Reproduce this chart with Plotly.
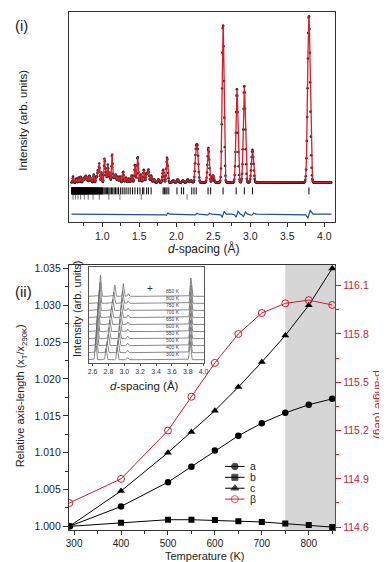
import numpy as np
import plotly.graph_objects as go

# ---------------- data: panel (ii) ----------------
temperature = [290, 400, 500, 550, 600, 650, 700, 750, 800, 850]
a_rel = [1.0000, 1.0027, 1.0060, 1.0081, 1.0103, 1.0123, 1.0140, 1.0154, 1.0165, 1.0173]
b_rel = [1.0000, 1.0005, 1.0009, 1.0009, 1.00085, 1.0007, 1.0006, 1.0004, 1.0002, 0.9999]
c_rel = [1.0000, 1.0048, 1.0100, 1.0128, 1.0157, 1.0189, 1.0223, 1.0259, 1.0300, 1.0350]
beta_deg = [114.75, 114.90, 115.20, 115.41, 115.62, 115.80, 115.93, 115.99, 116.01, 115.98]
shade_from = 750

# ---------------- data: panel (i) (diffraction pattern) ----------------
peak_d = [0.605, 0.65, 0.68, 0.708, 0.74, 0.76, 0.778, 0.80, 0.827, 0.85, 0.885, 0.92, 0.94, 0.96,
          0.99, 1.031, 1.05, 1.075, 1.10, 1.133, 1.16, 1.182, 1.21, 1.24, 1.283, 1.32, 1.36, 1.40,
          1.442, 1.478, 1.52, 1.562, 1.60, 1.624, 1.66, 1.70, 1.76, 1.823, 1.876, 1.96, 2.02, 2.09,
          2.155, 2.20, 2.266, 2.288, 2.434, 2.497, 2.633, 2.82, 2.92, 3.03, 3.793]
peak_h = [6, 4, 5, 6, 4, 5, 7, 5, 7, 4, 8, 6, 12, 19,
          10, 24, 9, 18, 10, 29, 6, 8, 6, 6, 11, 5, 4, 7,
          18, 26, 8, 13, 9, 13, 7, 3, 3, 13, 25, 2, 3, 2,
          3, 2, 30, 31, 35, 7, 160, 94, 97, 33, 169]
refl_phase1 = [0.585, 0.589, 0.592, 0.595, 0.598, 0.601, 0.604, 0.607, 0.61, 0.613, 0.616, 0.619,
               0.622, 0.625, 0.628, 0.631, 0.634, 0.637, 0.64, 0.643, 0.646, 0.649, 0.652, 0.655,
               0.658, 0.661, 0.664, 0.667, 0.67, 0.674, 0.677, 0.681, 0.684, 0.688, 0.691, 0.695,
               0.698, 0.702, 0.705, 0.709, 0.712, 0.716, 0.72, 0.724, 0.728, 0.732, 0.736, 0.74,
               0.744, 0.748, 0.752, 0.756, 0.76, 0.764, 0.768, 0.773, 0.777, 0.782, 0.786, 0.791,
               0.795, 0.80, 0.804, 0.809, 0.813, 0.818, 0.822, 0.827, 0.832, 0.837, 0.842, 0.847,
               0.852, 0.857, 0.862, 0.868, 0.873, 0.879, 0.884, 0.89, 0.895, 0.901, 0.906, 0.912,
               0.918, 0.924, 0.93, 0.936, 0.942, 0.948, 0.955, 0.962, 0.968, 0.975, 0.981, 0.988,
               0.995, 1.002, 1.01, 1.025, 1.04, 1.056, 1.072, 1.089, 1.106, 1.124, 1.142, 1.161,
               1.18, 1.2, 1.22, 1.245, 1.27, 1.296, 1.322, 1.35, 1.378, 1.41, 1.442, 1.478, 1.51,
               1.545, 1.562, 1.6, 1.624, 1.66, 1.823, 1.84, 1.86, 1.876, 1.90, 2.01, 2.07, 2.10,
               2.21, 2.24, 2.27, 2.43, 2.465, 2.633, 2.81, 2.92, 3.03, 3.793]
refl_phase2 = [0.605, 0.637, 0.672, 0.708, 0.757, 0.81, 0.876, 0.96, 1.089, 1.239, 1.527, 2.146]
diff_pos = [1.876, 2.266, 2.434, 2.633, 2.82, 2.92, 3.03, 3.793]
diff_amp = [1.2, 1.0, 1.0, 3.0, 3.0, 2.5, 1.2, 4.0]

# ---------------- data: inset (stacked patterns) ----------------
inset_T = [300, 400, 500, 550, 600, 650, 700, 750, 800, 850]
inset_p1 = [2.640, 2.648, 2.656, 2.661, 2.666, 2.672, 2.679, 2.686, 2.693, 2.700]
inset_p2 = [2.770, 2.784, 2.800, 2.809, 2.818, 2.830, 2.842, 2.855, 2.868, 2.880]
inset_p3 = [2.910, 2.922, 2.935, 2.941, 2.948, 2.956, 2.964, 2.972, 2.980, 2.988]
inset_p4 = [3.040, 3.041, 3.042, 3.043, 3.044, 3.045, 3.046, 3.047, 3.048, 3.050]
inset_p5 = [3.830, 3.831, 3.833, 3.834, 3.835, 3.836, 3.837, 3.838, 3.839, 3.840]
inset_heights = [3.0, 1.6, 1.8, 0.35, 2.6]

FONT = "Liberation Sans, Arial, sans-serif"
RED = "#c41e30"
AX = "#333333"

fig = go.Figure()

# ---------- panel (i) ----------
d_grid = np.arange(0.585, 4.10, 0.002)
d_obs = np.arange(0.585, 4.10, 0.005)


def pattern(x):
    y = np.zeros_like(x)
    for p, h in zip(peak_d, peak_h):
        s = 0.0035 + 0.0035 * p
        y += h * np.exp(-0.5 * ((x - p) / s) ** 2)
    return y


diff_offset = -32
diff = np.full_like(d_grid, diff_offset, dtype=float)
for p, A in zip(diff_pos, diff_amp):
    s = 0.0035 + 0.0035 * p
    u = (d_grid - p) / s
    diff += A * u * np.exp(-0.5 * u ** 2) * 1.6

fig.add_trace(go.Scatter(x=d_obs, y=pattern(d_obs), mode="markers",
                         marker=dict(size=2.6, color="#222222"), xaxis="x", yaxis="y",
                         showlegend=False, hoverinfo="skip"))
fig.add_trace(go.Scatter(x=d_grid, y=pattern(d_grid), mode="lines",
                         line=dict(color="#d0202e", width=1.3), xaxis="x", yaxis="y",
                         showlegend=False))
fig.add_trace(go.Scatter(x=refl_phase1, y=[-8.5] * len(refl_phase1), mode="markers",
                         marker=dict(symbol="line-ns", size=5, line=dict(width=1.0, color="black")),
                         xaxis="x", yaxis="y", showlegend=False))
fig.add_trace(go.Scatter(x=refl_phase2, y=[-14.5] * len(refl_phase2), mode="markers",
                         marker=dict(symbol="line-ns", size=4, line=dict(width=0.7, color="#333")),
                         xaxis="x", yaxis="y", showlegend=False))
fig.add_trace(go.Scatter(x=d_grid, y=diff, mode="lines",
                         line=dict(color="#1f4e9a", width=1.2), xaxis="x", yaxis="y",
                         showlegend=False))

# ---------- panel (ii) ----------
fig.add_shape(type="rect", xref="x2", yref="y2 domain", x0=shade_from, x1=870, y0=0, y1=1,
              fillcolor="#d6d6d6", line=dict(width=0), layer="below")

fig.add_trace(go.Scatter(x=temperature, y=a_rel, mode="lines+markers", name="a",
                         line=dict(color="black", width=1), marker=dict(symbol="circle", size=6.5, color="black"),
                         xaxis="x2", yaxis="y2", showlegend=False))
fig.add_trace(go.Scatter(x=temperature, y=b_rel, mode="lines+markers", name="b",
                         line=dict(color="black", width=1), marker=dict(symbol="square", size=6, color="black"),
                         xaxis="x2", yaxis="y2", showlegend=False))
fig.add_trace(go.Scatter(x=temperature, y=c_rel, mode="lines+markers", name="c",
                         line=dict(color="black", width=1), marker=dict(symbol="triangle-up", size=7, color="black"),
                         xaxis="x2", yaxis="y2", showlegend=False))
fig.add_trace(go.Scatter(x=temperature, y=beta_deg, mode="lines+markers", name="β",
                         line=dict(color=RED, width=1),
                         marker=dict(symbol="circle-open", size=7, color=RED, line=dict(width=1)),
                         xaxis="x2", yaxis="y3", showlegend=False))

# ---------- custom legend ----------
legend_names = ["a", "b", "c", "β"]
legend_symbols = ["circle", "square", "triangle-up", "circle-open"]
legend_colors = ["black", "black", "black", RED]
legend_sizes = [6.5, 6, 7, 7]
for k, (nm, sym, col, sz) in enumerate(zip(legend_names, legend_symbols, legend_colors, legend_sizes)):
    fig.add_trace(go.Scatter(x=[0, 0.5, 1], y=[k, k, k], mode="lines+markers",
                             line=dict(color=col, width=1),
                             marker=dict(symbol=sym, size=[0, sz, 0], color=col, line=dict(width=1, color=col)),
                             xaxis="x4", yaxis="y5", showlegend=False, hoverinfo="skip"))
    fig.add_annotation(text=nm, xref="paper", yref="y5", x=0.626, y=k, xanchor="left",
                       yanchor="middle", showarrow=False, borderpad=0,
                       font=dict(size=10.5, color="#222"))

# ---------- inset ----------
x_in = np.arange(2.55, 4.01, 0.002)
for i, T in enumerate(inset_T):
    pos = [inset_p1[i], inset_p2[i], inset_p3[i], inset_p4[i], inset_p5[i]]
    y = np.full_like(x_in, float(i))
    for p, h in zip(pos, inset_heights):
        s = 0.009 if p > 3.5 else 0.0075
        y += h * np.exp(-0.5 * ((x_in - p) / s) ** 2)
    fig.add_trace(go.Scatter(x=x_in, y=y, mode="lines", line=dict(color="#6a6a6a", width=0.8),
                             xaxis="x3", yaxis="y4", showlegend=False, hoverinfo="skip"))
    fig.add_annotation(text=f"{T} K", xref="x3", yref="y4", x=3.73, y=i + 0.05, xanchor="right",
                       yanchor="bottom", showarrow=False, font=dict(size=5, color="#444"))
fig.add_annotation(text="+", xref="x3", yref="y4", x=3.33, y=9.0, yanchor="bottom", showarrow=False,
                   font=dict(size=10, color="#333"))

# ---------- axis titles / labels ----------
def ann(text, x, y, size=13, angle=0, color="#222", xanchor="center"):
    fig.add_annotation(text=text, xref="paper", yref="paper", x=x / 387, y=1 - y / 562,
                       xanchor=xanchor, yanchor="middle", textangle=angle, showarrow=False,
                       font=dict(size=size, color=color))

ann("(i)", 11, 15, size=15)
ann("Intensity (arb. units)", 12, 110, size=11.5, angle=-90)
ann("<i>d</i>-spacing (Å)", 196, 240, size=12)
ann("(ii)", 13, 283, size=15)
ann("Relative axis-length (x<sub>T</sub>/x<sub>290K</sub>)", 10, 388, size=11, angle=-90)
ann("β-angle (deg)", 374, 397, size=11.5, angle=90, color=RED)
ann("Temperature (K)", 197, 550, size=11)
ann("<i>d</i>-spacing (Å)", 136, 378, size=11.5)
ann("Intensity (arb. units)", 68, 300, size=11, angle=-90)

tickfont = dict(size=10.5, color="#222")
fig.update_layout(
    width=387, height=562, margin=dict(l=0, r=0, t=0, b=0),
    paper_bgcolor="white", plot_bgcolor="rgba(0,0,0,0)",
    font=dict(family=FONT, color="#222"),
    showlegend=False,
    xaxis=dict(domain=[0.1525, 0.8527], anchor="y", range=[0.55, 4.146],
               tick0=1.0, dtick=0.5, tickformat=".1f", ticks="outside", ticklen=4, tickwidth=1,
               tickcolor=AX, showline=True, linecolor=AX, linewidth=1.2, mirror=True,
               showgrid=False, zeroline=False, tickfont=tickfont,
               minor=dict(dtick=0.25, tick0=0.75, ticks="outside", ticklen=2.5, tickcolor=AX)),
    yaxis=dict(domain=[0.621, 0.998], anchor="x", range=[-40, 172], showticklabels=False,
               ticks="", showline=True, linecolor=AX, linewidth=1.2, mirror=True,
               showgrid=False, zeroline=False),
    xaxis2=dict(domain=[0.1525, 0.8527], anchor="y2", range=[289, 856],
                tick0=300, dtick=100, ticks="outside", ticklen=3.5, tickcolor=AX,
                showline=True, linecolor=AX, linewidth=1.2, mirror=True,
                showgrid=False, zeroline=False, tickfont=dict(size=10, color="#222"),
                minor=dict(dtick=50, tick0=300, ticks="outside", ticklen=2.5, tickcolor=AX)),
    yaxis2=dict(domain=[0.0676, 0.5445], anchor="x2", range=[0.99946, 1.0355],
                tick0=1.0, dtick=0.005, tickformat=".3f", ticks="outside", ticklen=5,
                tickcolor=AX, showline=True, linecolor=AX, linewidth=1.2,
                showgrid=False, zeroline=False, tickfont=tickfont,
                minor=dict(dtick=0.0025, ticks="outside", ticklen=3, tickcolor=AX)),
    yaxis3=dict(overlaying="y2", anchor="x2", side="right", range=[114.58, 116.23],
                tick0=114.6, dtick=0.3, tickformat=".1f", ticks="outside", ticklen=5,
                tickcolor=RED, showline=True, linecolor=RED, linewidth=1.2,
                showgrid=False, zeroline=False, tickfont=dict(size=10.5, color=RED),
                minor=dict(dtick=0.15, tick0=114.6, ticks="outside", ticklen=3, tickcolor=RED)),
    xaxis3=dict(domain=[0.2041, 0.5090], anchor="y4", range=[2.55, 4.01],
                tick0=2.6, dtick=0.2, tickformat=".1f", ticks="outside", ticklen=2,
                tickcolor="#555", showline=True, linecolor="#555", linewidth=1, mirror=True,
                showgrid=False, zeroline=False, tickfont=dict(size=7, color="#333")),
    yaxis4=dict(domain=[0.3683, 0.5409], anchor="x3", range=[-0.45, 13.2],
                showticklabels=False, ticks="", showline=True, linecolor="#555", linewidth=1,
                mirror=True, showgrid=False, zeroline=False),
    xaxis4=dict(domain=[0.5633, 0.6150], anchor="y5", range=[0, 1], visible=False),
    yaxis5=dict(domain=[1 - 498 / 562, 1 - 454 / 562], anchor="x4", range=[3.5, -0.5], visible=False),
)

fig.write_html("out.html")
